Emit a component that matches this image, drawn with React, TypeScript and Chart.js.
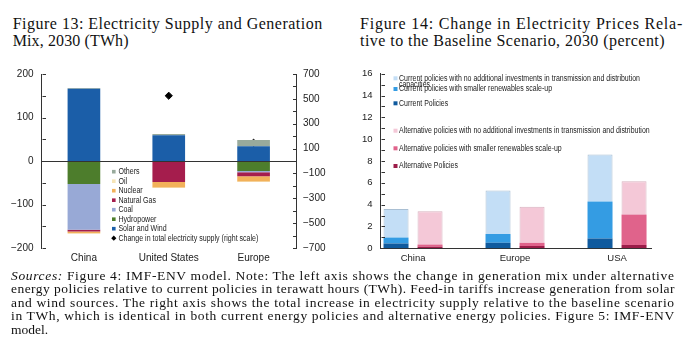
import React, { useEffect, useRef } from 'react';
import { Chart, registerables } from 'chart.js';

Chart.register(...registerables);

// ---------- Figure 13 data (TWh) ----------
const mixCategories = ['China', 'United States', 'Europe'];
const solarWind = [166, 59, 34];
const hydropower = [-53, 0, -23];
const coal = [-105, 0, -3];
const naturalGas = [-4, -48, -9];
const nuclear = [-4, -13, -12];
const oil = [-1, -1, -1];
const others = [2, 3, 14];
const totalChange = [235, 525, 147]; // right scale

// ---------- Figure 14 data (percent, level) ----------
const priceCountries = ['China', 'Europe', 'USA'];
const curPolicies = [0.45, 0.5, 0.9];
const curSmallerRen = [1.0, 1.3, 4.3];
const curNoInvest = [3.6, 5.3, 8.6];
const altPolicies = [0.15, 0.2, 0.3];
const altSmallerRen = [0.35, 0.5, 3.1];
const altNoInvest = [3.4, 3.8, 6.15];

const SANS = '"Liberation Sans", Arial, sans-serif';
const SERIF = '"Liberation Serif", "DejaVu Serif", serif';
const AXIS_COLOR = '#333';
const TEXT_COLOR = '#222';

const fmtSigned = (v: number) => (v < 0 ? '\u2212' + Math.abs(v) : String(v));

let measureCtx: CanvasRenderingContext2D | null = null;
function textWidth(text: string, font: string) {
  if (!measureCtx) measureCtx = document.createElement('canvas').getContext('2d');
  if (!measureCtx) return text.length * 6;
  measureCtx.font = font;
  return measureCtx.measureText(text).width;
}

const inwardTicks = {
  id: 'inwardTicks',
  afterDraw(chart: any, _args: any, opts: any) {
    const ctx = chart.ctx;
    ctx.save();
    ctx.strokeStyle = opts.color || AXIS_COLOR;
    ctx.lineWidth = 1;
    for (const s of opts.scales || []) {
      const scale = chart.scales[s.id];
      if (!scale) continue;
      const x = s.dir > 0 ? Math.round(scale.right) + 0.5 : Math.round(scale.left) + 0.5;
      for (const t of scale.ticks) {
        const y = Math.round(scale.getPixelForValue(t.value)) + 0.5;
        ctx.beginPath();
        ctx.moveTo(x, y);
        ctx.lineTo(x + s.dir * opts.len, y);
        ctx.stroke();
      }
    }
    ctx.restore();
  },
};

const zeroLine = {
  id: 'zeroLine',
  afterDatasetsDraw(chart: any, _args: any, opts: any) {
    if (!opts || !opts.enabled) return;
    const y = Math.round(chart.scales.y.getPixelForValue(0)) + 0.5;
    const ctx = chart.ctx;
    ctx.save();
    ctx.strokeStyle = opts.color;
    ctx.lineWidth = 1;
    ctx.beginPath();
    ctx.moveTo(chart.chartArea.left, y);
    ctx.lineTo(chart.chartArea.right, y);
    ctx.stroke();
    ctx.restore();
  },
};

const customLegend = {
  id: 'customLegend',
  afterDraw(chart: any, _args: any, opts: any) {
    if (!opts || !opts.rows) return;
    const ctx = chart.ctx;
    const sq = opts.squeeze || 1;
    ctx.save();
    ctx.font = opts.font;
    ctx.textBaseline = 'middle';
    for (const row of opts.rows) {
      const ds = chart.data.datasets[row.ds];
      const y = row.y;
      if (ds.type === 'line') {
        const cx = opts.x + opts.box / 2;
        const r = opts.box / 2 + 0.8;
        ctx.fillStyle = ds.backgroundColor;
        ctx.beginPath();
        ctx.moveTo(cx, y - r);
        ctx.lineTo(cx + r, y);
        ctx.lineTo(cx, y + r);
        ctx.lineTo(cx - r, y);
        ctx.closePath();
        ctx.fill();
      } else {
        ctx.fillStyle = ds.backgroundColor;
        ctx.fillRect(opts.x, y - opts.box / 2, opts.box, opts.box);
      }
      ctx.fillStyle = opts.color;
      const tx = opts.x + opts.box + opts.gap;
      const maxW = opts.maxWidth || 10000;
      const words = String(ds.label).split(' ');
      const lines: string[] = [];
      let cur = '';
      for (const w of words) {
        const test = cur ? cur + ' ' + w : w;
        if (ctx.measureText(test).width * sq > maxW && cur) {
          lines.push(cur);
          cur = w;
        } else cur = test;
      }
      if (cur) lines.push(cur);
      lines.forEach((ln, i) => {
        ctx.save();
        ctx.translate(tx, y + i * (opts.wrapGap || 7));
        ctx.scale(sq, 1);
        ctx.fillText(ln, 0, 0);
        ctx.restore();
      });
    }
    ctx.restore();
  },
};

function MixChart() {
  const ref = useRef<HTMLCanvasElement | null>(null);
  useEffect(() => {
    if (!ref.current) return;
    const font = { family: SANS, size: 10 };
    const chart = new Chart(ref.current, {
      type: 'bar',
      data: {
        labels: mixCategories,
        datasets: [
          { label: 'Solar and Wind', data: solarWind, backgroundColor: '#1b5ea8' },
          { label: 'Hydropower', data: hydropower, backgroundColor: '#4d7d2c' },
          { label: 'Coal', data: coal, backgroundColor: '#98a9d6' },
          { label: 'Natural Gas', data: naturalGas, backgroundColor: '#a51d4d' },
          { label: 'Nuclear', data: nuclear, backgroundColor: '#f2b15a' },
          { label: 'Oil', data: oil, backgroundColor: '#f6e4b6' },
          { label: 'Others', data: others, backgroundColor: '#98aa9c' },
          {
            type: 'line',
            label: 'Change in total electricity supply (right scale)',
            data: totalChange,
            yAxisID: 'y1',
            showLine: false,
            backgroundColor: '#000',
            borderColor: '#000',
            pointStyle: 'rectRot',
            pointRadius: 3.6,
          } as any,
        ],
      },
      options: {
        responsive: false,
        maintainAspectRatio: false,
        animation: false,
        layout: { padding: { top: 13, left: 0, right: 0, bottom: 0 } },
        datasets: { bar: { barPercentage: 0.385, categoryPercentage: 1 } },
        plugins: {
          legend: { display: false },
          tooltip: { enabled: false },
          inwardTicks: { scales: [{ id: 'y', dir: 1 }, { id: 'y1', dir: -1 }], len: 3.5, color: AXIS_COLOR },
          zeroLine: { enabled: true, color: AXIS_COLOR },
          customLegend: {
            font: `8.5px ${SANS}`,
            color: TEXT_COLOR,
            x: 112,
            box: 3.6,
            gap: 2.8,
            squeeze: 0.83,
            rows: [6, 5, 4, 3, 2, 1, 0, 7].map((ds, i) => ({ ds, y: 111.7 + i * 9.5 })),
          },
        } as any,
        scales: {
          x: {
            stacked: true,
            grid: { display: false, drawTicks: false },
            border: { display: false },
            ticks: { font, color: TEXT_COLOR, padding: 4, maxRotation: 0 },
            afterFit: (s: any) => { s.height = 22; },
          },
          y: {
            stacked: true,
            min: -200,
            max: 200,
            grid: { display: false, drawTicks: false },
            border: { display: true, color: AXIS_COLOR },
            ticks: {
              stepSize: 50,
              autoSkip: false,
              font,
              color: TEXT_COLOR,
              padding: 8,
              callback: (v: any) => (Number(v) % 100 === 0 ? fmtSigned(Number(v)) : ''),
            },
            afterFit: (s: any) => { s.width = 41.5; },
          },
          y1: {
            position: 'right',
            min: -700,
            max: 700,
            grid: { display: false, drawTicks: false },
            border: { display: true, color: AXIS_COLOR },
            ticks: {
              stepSize: 100,
              autoSkip: false,
              font,
              color: TEXT_COLOR,
              padding: 7,
              callback: (v: any) => (Math.abs(Number(v)) % 200 === 100 ? fmtSigned(Number(v)) : ''),
            },
            afterFit: (s: any) => { s.width = 54; },
          },
        },
      } as any,
      plugins: [inwardTicks, zeroLine, customLegend],
    });
    return () => chart.destroy();
  }, []);
  return <canvas ref={ref} width={350} height={210} style={{ position: 'absolute', left: 0, top: 60, width: 350, height: 210 }} />;
}

function PriceChart() {
  const ref = useRef<HTMLCanvasElement | null>(null);
  useEffect(() => {
    if (!ref.current) return;
    const font = { family: SANS, size: 9.5 };
    const pts = (arr: number[]) => arr.map((v, i) => ({ x: i, y: v }));
    const diff = (top: number[], base: number[]) => top.map((v, i) => v - base[i]);
    const chart = new Chart(ref.current, {
      type: 'bar',
      data: {
        datasets: [
          { label: 'Current Policies', stack: 'cur', data: pts(curPolicies), backgroundColor: '#0f5a9e' },
          { label: 'Current policies with smaller renewables scale-up', stack: 'cur', data: pts(diff(curSmallerRen, curPolicies)), backgroundColor: '#349ce3' },
          { label: 'Current policies with no additional investments in transmission and distribution capacities', stack: 'cur', data: pts(diff(curNoInvest, curSmallerRen)), backgroundColor: '#c3def6', borderColor: '#a9bfd3', borderWidth: 1 },
          { label: 'Alternative Policies', stack: 'alt', data: pts(altPolicies), backgroundColor: '#9c1c49' },
          { label: 'Alternative policies with smaller renewables scale-up', stack: 'alt', data: pts(diff(altSmallerRen, altPolicies)), backgroundColor: '#e0638b' },
          { label: 'Alternative policies with no additional investments in transmission and distribution', stack: 'alt', data: pts(diff(altNoInvest, altSmallerRen)), backgroundColor: '#f4c8d7', borderColor: '#d9b3c0', borderWidth: 1 },
        ],
      },
      options: {
        responsive: false,
        maintainAspectRatio: false,
        animation: false,
        layout: { padding: { top: 13.3, left: 0, right: 49, bottom: 0 } },
        datasets: { bar: { barPercentage: 0.735, categoryPercentage: 0.667 } },
        plugins: {
          legend: { display: false },
          tooltip: { enabled: false },
          inwardTicks: { scales: [{ id: 'y', dir: 1 }], len: 3.5, color: AXIS_COLOR },
          customLegend: {
            font: `8.5px ${SANS}`,
            color: TEXT_COLOR,
            x: 43.5,
            box: 4,
            gap: 1.5,
            squeeze: 0.82,
            maxWidth: 258,
            wrapGap: 6,
            rows: [
              { ds: 2, y: 18.3 },
              { ds: 1, y: 29 },
              { ds: 0, y: 43.3 },
              { ds: 5, y: 70.7 },
              { ds: 4, y: 88.3 },
              { ds: 3, y: 106 },
            ],
          },
        } as any,
        scales: {
          x: {
            type: 'linear',
            min: -0.319,
            max: 2.333,
            offset: false,
            grid: { display: false, drawTicks: false },
            border: { display: true, color: AXIS_COLOR },
            afterBuildTicks: (s: any) => { s.ticks = priceCountries.map((_, i) => ({ value: i })); },
            ticks: {
              autoSkip: false,
              maxRotation: 0,
              font,
              color: TEXT_COLOR,
              padding: 4,
              callback: (v: any) => priceCountries[Number(v)] ?? '',
            },
            afterFit: (s: any) => { s.height = 26.7; },
          },
          y: {
            stacked: true,
            min: 0,
            max: 16,
            grid: { display: false, drawTicks: false },
            border: { display: true, color: AXIS_COLOR },
            ticks: {
              stepSize: 1,
              autoSkip: false,
              font,
              color: TEXT_COLOR,
              padding: 8,
              callback: (v: any) => (Number(v) % 2 === 0 ? String(v) : ''),
            },
            afterFit: (s: any) => { s.width = 30.5; },
          },
        },
      } as any,
      plugins: [inwardTicks, customLegend],
    });
    return () => chart.destroy();
  }, []);
  return <canvas ref={ref} width={350} height={215} style={{ position: 'absolute', left: 350, top: 60, width: 350, height: 215 }} />;
}

type Part = { text: string; italic?: boolean };

// One line of serif text, letter-spaced so that it spans the given width.
function FitLine({ parts, size, left, baseline, width }: { parts: Part[]; size: number; left: number; baseline: number; width?: number }) {
  let ls = 0;
  if (width) {
    let total = 0;
    let n = 0;
    for (const p of parts) {
      total += textWidth(p.text, `${p.italic ? 'italic ' : ''}${size}px ${SERIF}`);
      n += p.text.length;
    }
    ls = (width - total) / n;
  }
  return (
    <div
      style={{
        position: 'absolute',
        left,
        top: baseline - 0.8375 * size,
        fontFamily: SERIF,
        fontSize: size,
        lineHeight: `${size}px`,
        letterSpacing: `${ls}px`,
        whiteSpace: 'pre',
        color: '#111',
      }}
    >
      {parts.map((p, i) => (p.italic ? <i key={i}>{p.text}</i> : <span key={i}>{p.text}</span>))}
    </div>
  );
}

const captionLines: Part[][] = [
  [{ text: 'Sources:', italic: true }, { text: ' Figure 4: IMF-ENV model. Note: The left axis shows the change in generation mix under alternative' }],
  [{ text: 'energy policies relative to current policies in terawatt hours (TWh). Feed-in tariffs increase generation from solar' }],
  [{ text: 'and wind sources. The right axis shows the total increase in electricity supply relative to the baseline scenario' }],
  [{ text: 'in TWh, which is identical in both current energy policies and alternative energy policies. Figure 5: IMF-ENV' }],
  [{ text: 'model.' }],
];

export default function App() {
  return (
    <div style={{ position: 'fixed', left: 0, top: 0, width: 700, height: 358, background: '#fff', overflow: 'hidden' }}>
      <FitLine parts={[{ text: 'Figure 13: Electricity Supply and Generation' }]} size={16} left={12.7} baseline={29.3} width={310} />
      <FitLine parts={[{ text: 'Mix, 2030 (TWh)' }]} size={16} left={12.7} baseline={46.7} width={116} />
      <FitLine parts={[{ text: 'Figure 14: Change in Electricity Prices Rela-' }]} size={16} left={360} baseline={29.3} width={323} />
      <FitLine parts={[{ text: 'tive to the Baseline Scenario, 2030 (percent)' }]} size={16} left={360} baseline={46.7} width={305} />
      <MixChart />
      <PriceChart />
      {captionLines.map((parts, i) => (
        <FitLine
          key={i}
          parts={parts}
          size={13.5}
          left={11}
          baseline={280 + i * 13.5}
          width={i < captionLines.length - 1 ? 664 : undefined}
        />
      ))}
    </div>
  );
}
